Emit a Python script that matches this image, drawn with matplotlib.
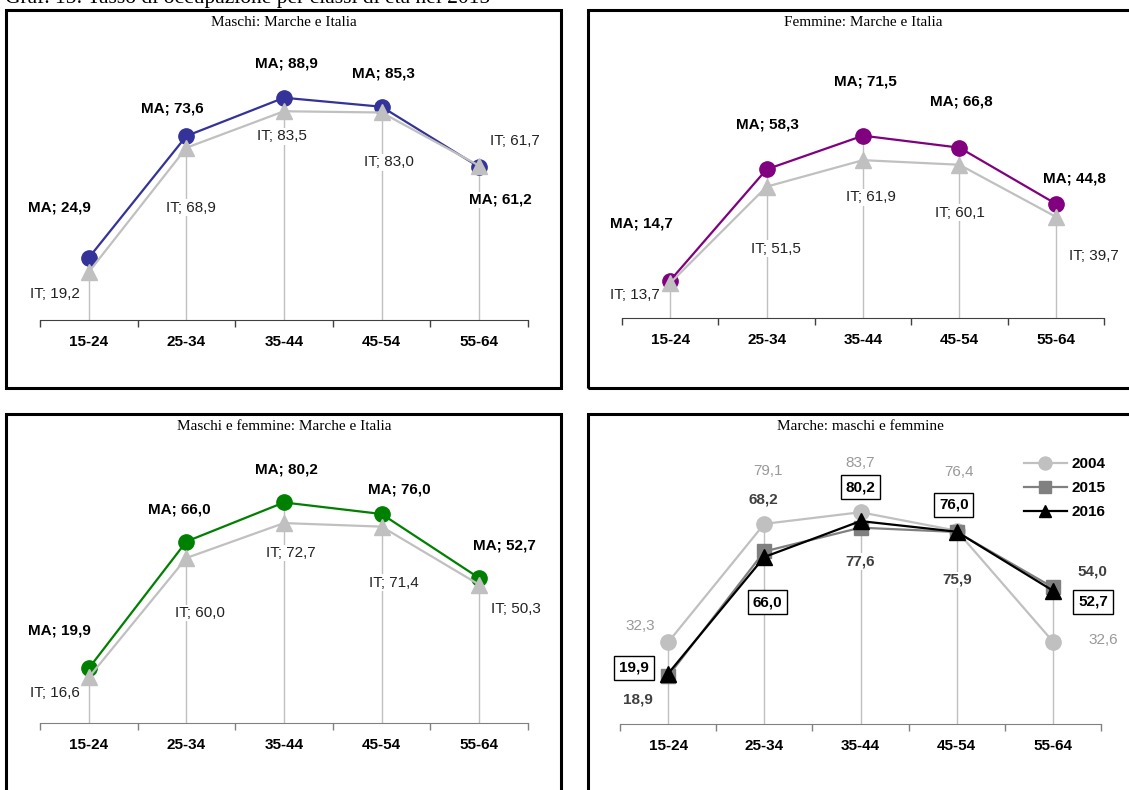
import numpy as np
import matplotlib
matplotlib.use("Agg")
import matplotlib.pyplot as plt
from matplotlib.patches import Rectangle

plt.rcParams['font.family'] = ['Liberation Sans', 'DejaVu Sans']

# dati: tasso di occupazione per classi di eta
classi = ["15-24", "25-34", "35-44", "45-54", "55-64"]
maschi_ma = [24.9, 73.6, 88.9, 85.3, 61.2]
maschi_it = [19.2, 68.9, 83.5, 83.0, 61.7]
femmine_ma = [14.7, 58.3, 71.5, 66.8, 44.8]
femmine_it = [13.7, 51.5, 61.9, 60.1, 39.7]
totale_ma = [19.9, 66.0, 80.2, 76.0, 52.7]
totale_it = [16.6, 60.0, 72.7, 71.4, 50.3]
marche_2004 = [32.3, 79.1, 83.7, 76.4, 32.6]
marche_2015 = [18.9, 68.2, 77.6, 75.9, 54.0]
marche_2016 = [19.9, 66.0, 80.2, 76.0, 52.7]
anni = ["2004", "2015", "2016"]

W, H = 1129, 790
fig = plt.figure(figsize=(W / 100, H / 100), dpi=100)


def add_ax(left, right, bottom, top):
    return fig.add_axes([left / W, 1 - bottom / H, (right - left) / W, (bottom - top) / H])


def fmt(v):
    return f"{v:.1f}".replace(".", ",")


def stile(ax, axcol):
    ax.set_xlim(-0.5, 4.5)
    ax.set_ylim(0, 100)
    ax.set_xticks(range(5), classi, fontweight='bold', fontsize=11)
    ax.tick_params(axis='x', which='major', length=0, pad=11)
    ax.set_xticks(np.arange(-0.5, 5, 1), minor=True)
    ax.tick_params(axis='x', which='minor', length=5, color=axcol, width=1)
    ax.set_yticks([])
    for s in ['left', 'top', 'right']:
        ax.spines[s].set_visible(False)
    ax.spines['bottom'].set_color(axcol)
    ax.patch.set_visible(False)


def etichetta(ax, txt, x, y, off, **kw):
    ax.annotate(txt, (x, y), xytext=off, textcoords='offset pixels',
                ha='center', va='center', zorder=6,
                bbox=kw.pop('bbox', dict(fc='white', ec='none', pad=1)), **kw)


def pannello(ax, ma, it, col, off_ma, off_it):
    x = np.arange(5)
    ax.vlines(x, 0, np.maximum(ma, it), color='#C0C0C0', lw=1, zorder=1)
    ax.plot(x, ma, color=col, lw=1.6, marker='o', ms=11, zorder=3)
    ax.plot(x, it, color='#C0C0C0', lw=1.6, marker='^', ms=11, zorder=4)
    for i in range(5):
        etichetta(ax, "MA; " + fmt(ma[i]), i, ma[i], off_ma[i], fontsize=11, fontweight='bold')
        etichetta(ax, "IT; " + fmt(it[i]), i, it[i], off_it[i], fontsize=11, color='#222222')
    stile(ax, '#404040' if col != '#008000' else '#808080')


# cornici dei pannelli
for x0, y0, x1, y1 in [(6, 10.5, 561, 388.5), (588, 10.5, 1140, 388.5),
                       (6, 414, 561, 800), (588, 414, 1140, 800)]:
    fig.add_artist(Rectangle((x0 / W, 1 - y1 / H), (x1 - x0) / W, (y1 - y0) / H,
                             transform=fig.transFigure, fill=False, lw=2.2, ec='black'))

fig.text(5 / W, 1 - 3.5 / H, "Graf. 15: Tasso di occupazione per classi di età nel 2015",
         family='Liberation Serif', fontsize=15.5, va='baseline')

# Maschi
ax1 = add_ax(40, 528, 320, 70)
pannello(ax1, maschi_ma, maschi_it, '#333399',
         [(-29, 50), (-14, 27), (2, 34), (2, 33), (21, -33)],
         [(-34, -22), (5, -60), (-2, -25), (7, -50), (36, 25)])
fig.text(284 / W, 1 - 22 / H, "Maschi: Marche e Italia", ha='center', va='center',
         family='Liberation Serif', fontsize=11)

# Femmine
ax2 = add_ax(622, 1104, 318, 63)
pannello(ax2, femmine_ma, femmine_it, '#800080',
         [(-29, 57), (1, 45), (2, 54), (2, 46), (19, 25)],
         [(-35, -12), (9, -62), (8, -37), (1, -48), (38, -39)])
fig.text(863 / W, 1 - 22 / H, "Femmine: Marche e Italia", ha='center', va='center',
         family='Liberation Serif', fontsize=11)

# Maschi e femmine
ax3 = add_ax(40, 528, 723, 448)
pannello(ax3, totale_ma, totale_it, '#008000',
         [(-29, 38), (-7, 32), (2, 33), (18, 24), (25, 33)],
         [(-34, -16), (14, -55), (7, -30), (12, -56), (37, -24)])
fig.text(284 / W, 1 - 426 / H, "Maschi e femmine: Marche e Italia", ha='center', va='center',
         family='Liberation Serif', fontsize=11)

# Marche: confronto anni
ax4 = add_ax(620, 1101, 724, 471)
x = np.arange(5)
ax4.vlines(x, 0, np.maximum.reduce([marche_2004, marche_2015, marche_2016]),
           color='#C0C0C0', lw=1, zorder=1)
h1, = ax4.plot(x, marche_2004, color='#C0C0C0', lw=1.6, marker='o', ms=11, zorder=3)
h2, = ax4.plot(x, marche_2015, color='#808080', lw=1.6, marker='s', ms=10, zorder=4)
h3, = ax4.plot(x, marche_2016, color='#000000', lw=1.6, marker='^', ms=11, zorder=5)
off_04 = [(-28, 16), (4, 53), (0, 49), (2, 59), (50, 2)]
off_15 = [(-30, -23), (-1, 52), (0, -34), (1, -48), (40, 16)]
off_16 = [(-34, 6), (3, -45), (0, 34), (-3, 27), (40, -11)]
for i in range(5):
    etichetta(ax4, fmt(marche_2004[i]), i, marche_2004[i], off_04[i], fontsize=11, color='#999999')
    etichetta(ax4, fmt(marche_2015[i]), i, marche_2015[i], off_15[i], fontsize=11,
              fontweight='bold', color='#404040')
    etichetta(ax4, fmt(marche_2016[i]), i, marche_2016[i], off_16[i], fontsize=11,
              fontweight='bold', color='black',
              bbox=dict(fc='white', ec='black', lw=1, pad=3.5))
stile(ax4, '#808080')
ax4.legend([h1, h2, h3], anni, loc='upper left', bbox_to_anchor=(1024 / W, 1 - 457 / H),
           bbox_transform=fig.transFigure, frameon=False, prop={'weight': 'bold', 'size': 11},
           handlelength=2.8, handletextpad=0.3, labelspacing=0.65, borderpad=0,
           borderaxespad=0, markerscale=0.85)
fig.text(860 / W, 1 - 426 / H, "Marche: maschi e femmine", ha='center', va='center',
         family='Liberation Serif', fontsize=11)

fig.savefig("out.png", dpi=100)
